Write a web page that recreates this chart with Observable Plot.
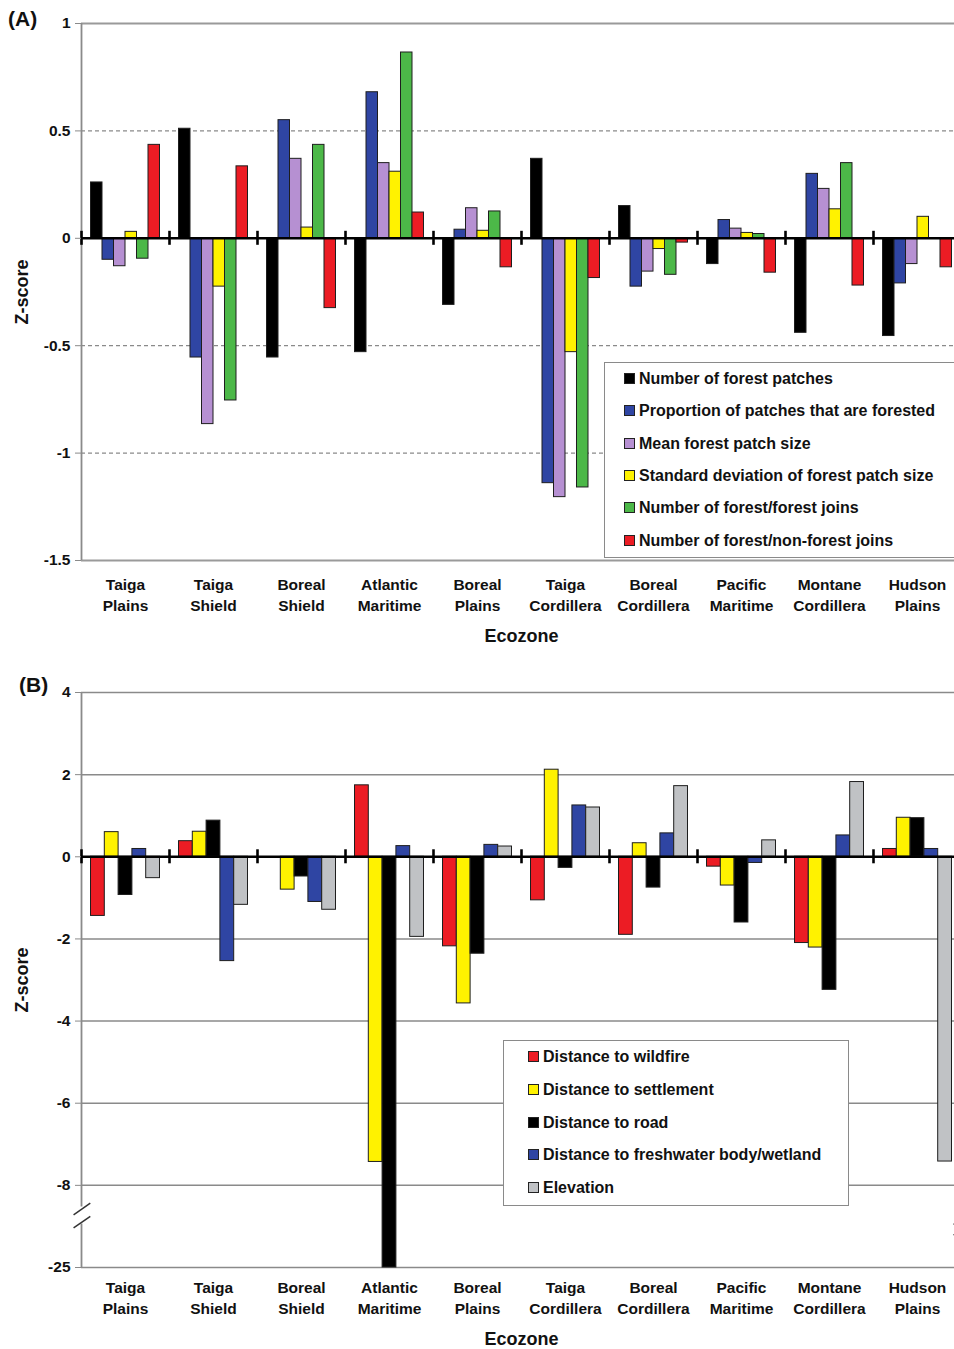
<!DOCTYPE html>
<html>
<head>
<meta charset="utf-8">
<script src="https://cdn.jsdelivr.net/npm/d3@7"></script>
<script src="https://cdn.jsdelivr.net/npm/@observablehq/plot@0.6"></script>
<style>
  html, body { margin: 0; padding: 0; background: #fff; }
  body { font-family: "Liberation Sans", Arial, sans-serif; }
  #wrap { position: relative; width: 954px; height: 1349px; overflow: hidden; background: #fff; }
  .panel { position: absolute; left: 0; }
  .tag { position: absolute; font-weight: bold; font-size: 21px; line-height: 21px; color: #111; }
  .legend { position: absolute; border: 1.5px solid #8a8a8a; background: #fff; box-sizing: border-box; }
  .legend .item { position: absolute; height: 20px; line-height: 20px; font-weight: bold; font-size: 16px; white-space: nowrap; color: #111; }
  .legend .sw { position: absolute; left: 0; top: 4px; width: 11px; height: 11px; border: 1px solid #222; box-sizing: border-box; }
</style>
</head>
<body>
<div id="wrap">
  <div class="tag" style="left:8px; top:8px;">(A)</div>
  <div class="tag" style="left:19px; top:674px;">(B)</div>
  <div id="panelA" class="panel" style="top:0px;"></div>
  <div id="panelB" class="panel" style="top:660px;"></div>
  <div id="legendA" class="legend" style="left:604px; top:362px; width:360px; height:196px;"></div>
  <div id="legendB" class="legend" style="left:503px; top:1040px; width:346px; height:166px;"></div>
</div>
<script>
// ---------- data ----------
const ecozones = ["Taiga Plains", "Taiga Shield", "Boreal Shield", "Atlantic Maritime", "Boreal Plains",
  "Taiga Cordillera", "Boreal Cordillera", "Pacific Maritime", "Montane Cordillera", "Hudson Plains"];
const ecozoneLabels = ["Taiga\nPlains", "Taiga\nShield", "Boreal\nShield", "Atlantic\nMaritime", "Boreal\nPlains",
  "Taiga\nCordillera", "Boreal\nCordillera", "Pacific\nMaritime", "Montane\nCordillera", "Hudson\nPlains"];

// Panel A: landscape pattern metrics (Z-scores)
const seriesA = ["Number of forest patches", "Proportion of patches that are forested", "Mean forest patch size",
  "Standard deviation of forest patch size", "Number of forest/forest joins", "Number of forest/non-forest joins"];
const colorsA = ["#000000", "#2f45a3", "#b690d2", "#fff200", "#4cb848", "#ec1c24"];
const numForestPatches = [0.26, 0.51, -0.555, -0.53, -0.31, 0.37, 0.15, -0.12, -0.44, -0.455];
const propForested     = [-0.10, -0.555, 0.55, 0.68, 0.04, -1.14, -0.225, 0.085, 0.30, -0.21];
const meanPatchSize    = [-0.13, -0.865, 0.37, 0.35, 0.14, -1.205, -0.155, 0.045, 0.23, -0.12];
const sdPatchSize      = [0.03, -0.225, 0.05, 0.31, 0.035, -0.53, -0.05, 0.025, 0.135, 0.10];
const forestJoins      = [-0.095, -0.755, 0.435, 0.865, 0.125, -1.16, -0.17, 0.02, 0.35, 0];
const nonForestJoins   = [0.435, 0.335, -0.325, 0.12, -0.135, -0.185, -0.02, -0.16, -0.22, -0.135];
const ticksA = [1, 0.5, 0, -0.5, -1, -1.5];
const dashedGridA = [0.5, -0.5, -1];

// Panel B: distance / elevation variables (Z-scores), broken axis below -8
const seriesB = ["Distance to wildfire", "Distance to settlement", "Distance to road",
  "Distance to freshwater body/wetland", "Elevation"];
const colorsB = ["#ec1c24", "#fff200", "#000000", "#2f45a3", "#c0c2c5"];
const distWildfire   = [-1.44, 0.38, 0, 1.74, -2.18, -1.06, -1.90, -0.24, -2.10, 0.19];
const distSettlement = [0.60, 0.61, -0.80, -7.43, -3.57, 2.12, 0.33, -0.70, -2.21, 0.95];
const distRoad       = [-0.93, 0.88, -0.48, -25, -2.36, -0.27, -0.75, -1.60, -3.24, 0.94];
const distFreshwater = [0.19, -2.54, -1.10, 0.26, 0.29, 1.25, 0.57, -0.15, 0.52, 0.19];
const elevation      = [-0.52, -1.17, -1.29, -1.95, 0.25, 1.20, 1.72, 0.40, 1.82, -7.42];
const ticksB = [4, 2, 0, -2, -4, -6, -8, -25];
const gridB = [4, 2, -2, -4, -6, -8, -25];
const axisBreakB = [-8, -25];            // compressed segment of the axis
const breakMarksLeftB = [-12.9, -15.6];  // where the // marks sit on the left axis
const breakMarksRightB = [-14.9, -17.1]; // and on the right edge

// ---------- helpers ----------
const FONT = "'Liberation Sans', Arial, Helvetica, sans-serif";
const groupCenters = ecozones.map((_, i) => i + 0.5);
const groupEdges = d3.range(ecozones.length + 1);

function rowsOf(valueLists, series) {
  return valueLists.flatMap((vals, j) => vals.map((v, i) => ({i, j, s: series[j], v})));
}
function inner(n) {
  const frac = 0.784; // share of each ecozone slot covered by its bars
  return d3.scaleBand(d3.range(n), [0, 1]).paddingInner(0).paddingOuter(n * (1 - frac) / (2 * frac));
}

// ---------- panel A ----------
{
  const rows = rowsOf([numForestPatches, propForested, meanPatchSize, sdPatchSize, forestJoins, nonForestJoins], seriesA);
  const band = inner(seriesA.length);
  const plot = Plot.plot({
    width: 954, height: 660,
    marginLeft: 81, marginRight: -7, marginTop: 23, marginBottom: 100,
    style: {fontFamily: FONT, background: "transparent", overflow: "hidden"},
    x: {type: "linear", domain: [0, ecozones.length]},
    y: {domain: [-1.5, 1]},
    color: {domain: seriesA, range: colorsA},
    marks: [
      Plot.ruleY(dashedGridA, {stroke: "#8a8a8a", strokeWidth: 1.3, strokeDasharray: "4,3"}),
      Plot.ruleY([1, -1.5], {stroke: "#9a9a9a", strokeWidth: 1.8}),
      Plot.ruleX([0], {stroke: "#8a8a8a", strokeWidth: 1.8}),
      Plot.rect(rows, {
        x1: d => d.i + band(d.j), x2: d => d.i + band(d.j) + band.bandwidth(),
        y1: 0, y2: "v", fill: "s", stroke: "#1e1e1e", strokeWidth: 1
      }),
      Plot.ruleY([0], {stroke: "#000", strokeWidth: 2.6}),
      Plot.ruleX(groupEdges, {y1: 0, y2: 0, insetTop: -7, insetBottom: -7, stroke: "#000", strokeWidth: 2.6}),
      Plot.axisY(ticksA, {tickFormat: d => String(d), tickSize: 6, tickPadding: 5, fontSize: 15.5, fontWeight: "bold", stroke: "#8a8a8a", fill: "#111", label: null}),
      Plot.axisX(groupCenters, {tickFormat: d => ecozoneLabels[Math.floor(d)], tickSize: 0, tickPadding: 15, fontSize: 15.5, fontWeight: "bold", lineHeight: 1.35, fill: "#111", label: null}),
      Plot.text(["Ecozone"], {frameAnchor: "bottom", dy: 81, fontSize: 18, fontWeight: "bold", fill: "#111"}),
      Plot.text(["Z-score"], {frameAnchor: "left", textAnchor: "middle", dx: -59, rotate: -90, fontSize: 18, fontWeight: "bold", fill: "#111"})
    ]
  });
  document.getElementById("panelA").appendChild(plot);
}

// ---------- panel B ----------
{
  const rows = rowsOf([distWildfire, distSettlement, distRoad, distFreshwater, elevation], seriesB);
  const band = inner(seriesB.length);
  const H = 689, mt = 32, mb = 82;
  const top = mt, bottom = H - mb;
  const [brkHi, brkLo] = axisBreakB;
  const unit = (bottom - top) / ((ticksB[0] - brkHi) + 2); // compressed segment takes two units
  const n = ecozones.length;
  const plot = Plot.plot({
    width: 954, height: H,
    marginLeft: 81, marginRight: -7, marginTop: mt, marginBottom: mb,
    style: {fontFamily: FONT, background: "transparent", overflow: "hidden"},
    x: {type: "linear", domain: [0, n]},
    y: {type: "linear", domain: [brkLo, brkHi, ticksB[0]], range: [bottom, bottom - 2 * unit, top]},
    color: {domain: seriesB, range: colorsB},
    marks: [
      Plot.ruleY(gridB, {stroke: "#8a8a8a", strokeWidth: 1.5}),
      Plot.ruleX([0], {y1: ticksB[0], y2: breakMarksLeftB[0] + 0.4, stroke: "#8a8a8a", strokeWidth: 1.8}),
      Plot.ruleX([0], {y1: breakMarksLeftB[1] - 0.4, y2: brkLo, stroke: "#8a8a8a", strokeWidth: 1.8}),
      Plot.link(breakMarksLeftB, {x1: -0.09, x2: 0.1, y1: d => d - 1.2, y2: d => d + 1.2, stroke: "#333", strokeWidth: 1.5}),
      Plot.link(breakMarksRightB, {x1: n - 0.09, x2: n + 0.1, y1: d => d - 1.2, y2: d => d + 1.2, stroke: "#333", strokeWidth: 1.5}),
      Plot.rect(rows, {
        x1: d => d.i + band(d.j), x2: d => d.i + band(d.j) + band.bandwidth(),
        y1: 0, y2: "v", fill: "s", stroke: "#1e1e1e", strokeWidth: 1
      }),
      Plot.ruleY([0], {stroke: "#000", strokeWidth: 2.6}),
      Plot.ruleX(groupEdges, {y1: 0, y2: 0, insetTop: -7, insetBottom: -7, stroke: "#000", strokeWidth: 2.6}),
      Plot.axisY(ticksB, {tickFormat: d => String(d), tickSize: 6, tickPadding: 5, fontSize: 15.5, fontWeight: "bold", stroke: "#8a8a8a", fill: "#111", label: null}),
      Plot.axisX(groupCenters, {tickFormat: d => ecozoneLabels[Math.floor(d)], tickSize: 0, tickPadding: 11, fontSize: 15.5, fontWeight: "bold", lineHeight: 1.35, fill: "#111", label: null}),
      Plot.text(["Ecozone"], {frameAnchor: "bottom", dy: 77, fontSize: 18, fontWeight: "bold", fill: "#111"}),
      Plot.text(["Z-score"], {frameAnchor: "left", textAnchor: "middle", dx: -59, rotate: -90, fontSize: 18, fontWeight: "bold", fill: "#111"})
    ]
  });
  document.getElementById("panelB").appendChild(plot);
}

// ---------- legends ----------
function legend(id, series, colors, x0, tops) {
  const box = document.getElementById(id);
  series.forEach((s, k) => {
    const item = document.createElement("div");
    item.className = "item";
    item.style.left = x0 + "px";
    item.style.top = tops[k] + "px";
    item.style.paddingLeft = "15px";
    const sw = document.createElement("span");
    sw.className = "sw";
    sw.style.background = colors[k];
    item.appendChild(sw);
    item.appendChild(document.createTextNode(s));
    box.appendChild(item);
  });
}
legend("legendA", seriesA, colorsA, 19, [6, 38, 71, 103, 135, 168]);
legend("legendB", seriesB, colorsB, 24, [6, 39, 72, 104, 137]);
</script>
</body>
</html>
